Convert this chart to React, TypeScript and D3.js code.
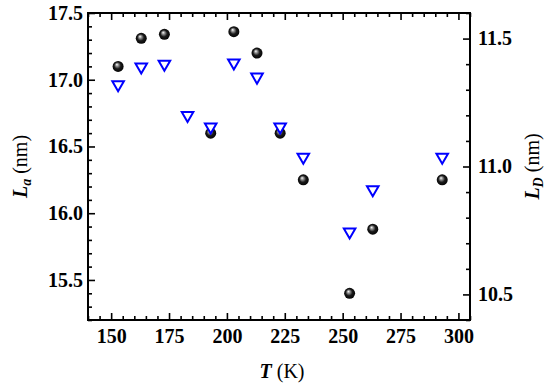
import React, { useRef, useEffect } from "react";
import * as d3 from "d3";

// temperature (K)
const temps = [153, 163, 173, 183, 193, 203, 213, 223, 233, 253, 263, 293];
// L_a (nm), black spheres, left axis (no visible point at 183 K)
const laValues: (number | null)[] = [17.1, 17.31, 17.34, null, 16.6, 17.36, 17.2, 16.6, 16.25, 15.4, 15.88, 16.25];
// L_D (nm), blue open triangles, right axis
const ldValues = [11.32, 11.39, 11.4, 11.2, 11.155, 11.405, 11.35, 11.155, 11.037, 10.745, 10.91, 11.037];

const xTicks = [150, 175, 200, 225, 250, 275, 300];
const leftTicks = [15.5, 16.0, 16.5, 17.0, 17.5];
const rightTicks = [10.5, 11.0, 11.5];

const FONT = "Liberation Serif";

const App = () => {
  const svgRef = useRef<SVGSVGElement>(null);

  useEffect(() => {
    if (!svgRef.current) return;

    const width = 550;
    const height = 390;
    const margin = { top: 13, right: 80, bottom: 70, left: 88 };

    const svg = d3.select(svgRef.current);
    svg.selectAll("*").remove();

    const x = d3.scaleLinear().domain([140, 305]).range([margin.left, width - margin.right]);
    const yL = d3.scaleLinear().domain([15.2, 17.5]).range([height - margin.bottom, margin.top]);
    const yR = d3.scaleLinear().domain([10.4, 11.6]).range([height - margin.bottom, margin.top]);

    const defs = svg.append("defs");
    const grad = defs
      .append("radialGradient")
      .attr("id", "ball")
      .attr("cx", "50%")
      .attr("cy", "50%")
      .attr("r", "55%")
      .attr("fx", "38%")
      .attr("fy", "32%");
    grad.append("stop").attr("offset", "0%").attr("stop-color", "#ffffff");
    grad.append("stop").attr("offset", "22%").attr("stop-color", "#9a9a9a");
    grad.append("stop").attr("offset", "55%").attr("stop-color", "#1a1a1a");
    grad.append("stop").attr("offset", "100%").attr("stop-color", "#000000");

    const minor = (lo: number, hi: number, step: number, major: number[]) =>
      d3.range(Math.round(lo / step), Math.round(hi / step) + 1)
        .map((i) => +(i * step).toFixed(3))
        .filter((v) => !major.some((m) => Math.abs(m - v) < 1e-6));

    const styleAxis = (g: any) => {
      g.attr("font-family", FONT).attr("font-size", 20).attr("font-weight", "bold");
      g.select(".domain").remove();
      g.selectAll(".tick line").attr("stroke", "#000").attr("stroke-width", 1.6);
      g.selectAll(".tick text").attr("fill", "#000");
    };

    const bottomY = height - margin.bottom;
    const rightX = width - margin.right;

    // bottom axis
    svg.append("g").attr("transform", `translate(0,${bottomY})`)
      .call(d3.axisBottom(x).tickValues(xTicks).tickSize(-7).tickPadding(9).tickFormat(d3.format("d")))
      .call(styleAxis);
    svg.append("g").attr("transform", `translate(0,${bottomY})`)
      .call(d3.axisBottom(x).tickValues(minor(140, 305, 5, xTicks)).tickSize(-4).tickFormat(() => ""))
      .call(styleAxis);
    // top axis
    svg.append("g").attr("transform", `translate(0,${margin.top})`)
      .call(d3.axisTop(x).tickValues(xTicks).tickSize(-7).tickFormat(() => ""))
      .call(styleAxis);
    svg.append("g").attr("transform", `translate(0,${margin.top})`)
      .call(d3.axisTop(x).tickValues(minor(140, 305, 5, xTicks)).tickSize(-4).tickFormat(() => ""))
      .call(styleAxis);
    // left axis
    svg.append("g").attr("transform", `translate(${margin.left},0)`)
      .call(d3.axisLeft(yL).tickValues(leftTicks).tickSize(-7).tickPadding(5).tickFormat(d3.format(".1f")))
      .call(styleAxis);
    svg.append("g").attr("transform", `translate(${margin.left},0)`)
      .call(d3.axisLeft(yL).tickValues(minor(15.2, 17.5, 0.1, leftTicks)).tickSize(-4).tickFormat(() => ""))
      .call(styleAxis);
    // right axis
    svg.append("g").attr("transform", `translate(${rightX},0)`)
      .call(d3.axisRight(yR).tickValues(rightTicks).tickSize(-7).tickPadding(8).tickFormat(d3.format(".1f")))
      .call(styleAxis);
    svg.append("g").attr("transform", `translate(${rightX},0)`)
      .call(d3.axisRight(yR).tickValues(minor(10.4, 11.6, 0.1, rightTicks)).tickSize(-4).tickFormat(() => ""))
      .call(styleAxis);

    // frame
    svg.append("rect")
      .attr("x", margin.left)
      .attr("y", margin.top)
      .attr("width", rightX - margin.left)
      .attr("height", bottomY - margin.top)
      .attr("fill", "none")
      .attr("stroke", "#000")
      .attr("stroke-width", 2);

    // L_a spheres
    const laPoints = temps
      .map((t, i) => ({ t, v: laValues[i] }))
      .filter((p) => p.v !== null) as { t: number; v: number }[];
    svg.append("g")
      .selectAll("circle")
      .data(laPoints)
      .join("circle")
      .attr("cx", (d) => x(d.t))
      .attr("cy", (d) => yL(d.v))
      .attr("r", 5.5)
      .attr("fill", "url(#ball)");

    // L_D triangles (pointing down)
    const tri = d3.symbol().type(d3.symbolTriangle).size(58);
    svg.append("g")
      .selectAll("path")
      .data(temps)
      .join("path")
      .attr("d", tri)
      .attr("transform", (d, i) => `translate(${x(d)},${yR(ldValues[i])}) rotate(180)`)
      .attr("fill", "#fff")
      .attr("stroke", "#0000ff")
      .attr("stroke-width", 2);

    // axis titles
    const title = (g: any, sub: string) => {
      g.append("tspan").attr("font-weight", "bold").attr("font-style", "italic").text("L");
      g.append("tspan")
        .attr("font-weight", "bold")
        .attr("font-style", "italic")
        .attr("font-size", 14)
        .attr("dy", 4)
        .text(sub);
      g.append("tspan").attr("dy", -4).text("\u00a0(nm)");
    };

    const midY = (margin.top + bottomY) / 2;
    const leftTitle = svg.append("text")
      .attr("transform", `translate(27,${midY}) rotate(-90)`)
      .attr("text-anchor", "middle")
      .attr("font-family", FONT)
      .attr("font-size", 20)
      .attr("fill", "#000");
    title(leftTitle, "a");

    const rightTitle = svg.append("text")
      .attr("transform", `translate(539,${midY}) rotate(-90)`)
      .attr("text-anchor", "middle")
      .attr("font-family", FONT)
      .attr("font-size", 20)
      .attr("fill", "#000");
    title(rightTitle, "D");

    const xTitle = svg.append("text")
      .attr("x", (margin.left + rightX) / 2 + 3)
      .attr("y", 378)
      .attr("text-anchor", "middle")
      .attr("font-family", FONT)
      .attr("font-size", 20)
      .attr("fill", "#000");
    xTitle.append("tspan").attr("font-weight", "bold").attr("font-style", "italic").text("T");
    xTitle.append("tspan").text("\u00a0(K)");
  }, []);

  return (
    <svg
      ref={svgRef}
      width={550}
      height={390}
      fontFamily={FONT}
      style={{ position: "absolute", left: 0, top: 0, background: "#fff" }}
    ></svg>
  );
};

export default App;
